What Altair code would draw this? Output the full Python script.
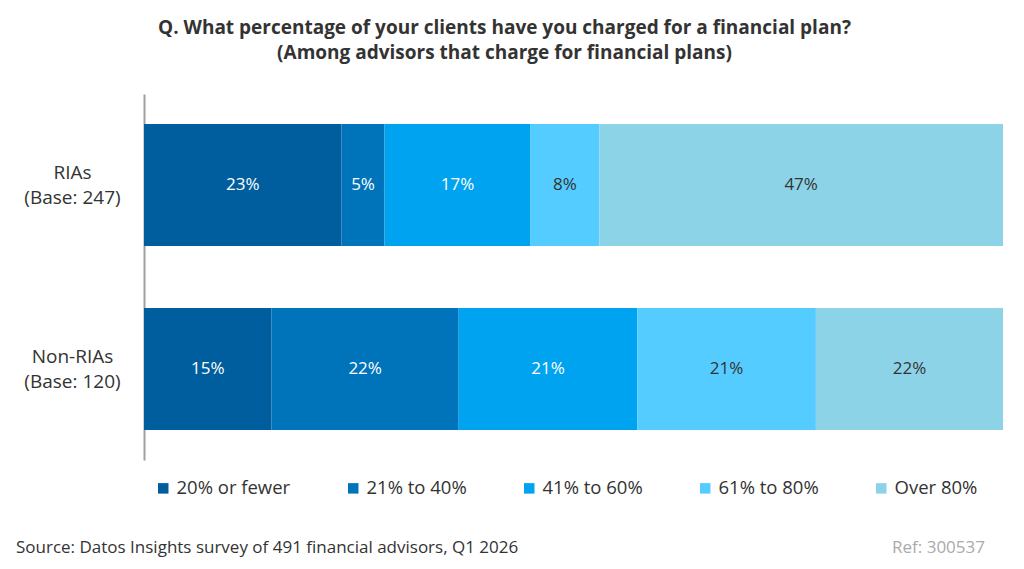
import altair as alt
import pandas as pd

groups = ["RIAs\n(Base: 247)", "Non-RIAs\n(Base: 120)"]
categories = ["20% or fewer", "21% to 40%", "41% to 60%", "61% to 80%", "Over 80%"]
ria_values = [23, 5, 17, 8, 47]
nonria_values = [15, 22, 21, 21, 22]
colors = ["#005e9e", "#0074bb", "#00a3ef", "#55ccff", "#8dd3e8"]
title_lines = ["Q. What percentage of your clients have you charged for a financial plan?",
               "(Among advisors that charge for financial plans)"]
source_text = "Source: Datos Insights survey of 491 financial advisors, Q1 2026"
ref_text = "Ref: 300537"

FONT = "Open Sans"
rows = []
for g, vals in zip(groups, [ria_values, nonria_values]):
    for i, (c, v) in enumerate(zip(categories, vals)):
        rows.append({"group": g, "category": c, "value": v, "order": i})
df = pd.DataFrame(rows)

base = alt.Chart(df).transform_stack(
    stack="value", groupby=["group"], as_=["v0", "v1"], offset="normalize",
    sort=[alt.SortField("order", order="ascending")]
).transform_calculate(mid="(datum.v0 + datum.v1) / 2", lbl="datum.value + '%'")

yenc = alt.Y("group:N", sort=groups, title=None,
             scale=alt.Scale(paddingInner=0.337, paddingOuter=0.163),
             axis=alt.Axis(labelExpr="split(datum.label, '\\n')", labelAlign="center",
                           labelPadding=72, ticks=False, tickSize=0, labelFontSize=19,
                           labelColor="#333333", labelFont=FONT, labelLineHeight=25,
                           labelOffset=-12, labelBaseline="middle",
                           domainColor="#a0a0a0", domainWidth=2))

bars = base.mark_bar().encode(
    x=alt.X("v0:Q", scale=alt.Scale(domain=[0, 1], nice=False), axis=None),
    x2="v1:Q",
    y=yenc,
    color=alt.Color("category:N", sort=categories,
                    scale=alt.Scale(domain=categories, range=colors),
                    legend=alt.Legend(title=None, orient="none", legendX=10, legendY=385,
                                      direction="horizontal", columns=5, columnPadding=53,
                                      symbolType="square", symbolSize=110, labelFontSize=18.5,
                                      labelColor="#333333", labelFont=FONT, labelOffset=4,
                                      symbolStrokeWidth=0)),
    order=alt.Order("order:Q"),
)

labels = base.mark_text(fontSize=17, font=FONT).encode(
    x=alt.X("mid:Q"),
    y=alt.Y("group:N", sort=groups),
    text="lbl:N",
    color=alt.condition("datum.order < 3", alt.value("#ffffff"), alt.value("#333333")),
)

src = alt.Chart(pd.DataFrame({"t": [source_text]})).mark_text(
    align="left", baseline="middle", fontSize=17, font=FONT, color="#333333"
).encode(x=alt.value(-128), y=alt.value(454), text="t:N")

ref = alt.Chart(pd.DataFrame({"t": [ref_text]})).mark_text(
    align="right", baseline="middle", fontSize=17, font=FONT, color="#aaaaaa"
).encode(x=alt.value(841), y=alt.value(454), text="t:N")

chart = alt.layer(bars, labels, src, ref).properties(
    width=859, height=366,
    padding={"left": 136, "top": 86, "right": 13, "bottom": 101},
    autosize=alt.AutoSizeParams(type="none"),
    title=alt.TitleParams(text=title_lines, anchor="middle", dx=-69, fontSize=19,
                          fontWeight="bold", color="#333333", font=FONT,
                          lineHeight=25, offset=31),
).configure_view(stroke=None)

chart.save("out.html", embed_options={"renderer": "svg", "actions": False})
